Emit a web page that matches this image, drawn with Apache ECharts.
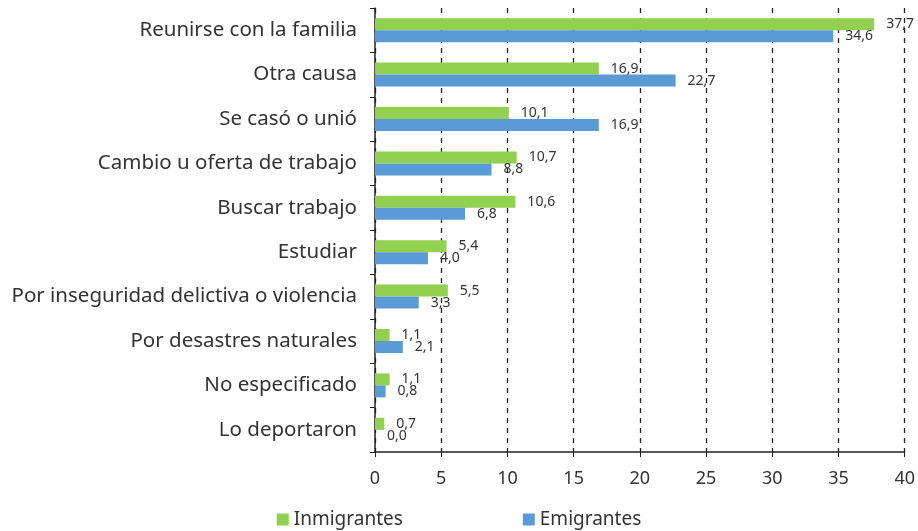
<!DOCTYPE html>
<html>
<head>
<meta charset="utf-8">
<script src="https://cdn.jsdelivr.net/npm/echarts@6/dist/echarts.min.js"></script>
<style>
  html, body { margin: 0; padding: 0; background: #fff; }
  #chart { width: 918px; height: 531px; }
</style>
</head>
<body>
<div id="chart"></div>
<script>
var categories = [
  'Reunirse con la familia',
  'Otra causa',
  'Se casó o unió',
  'Cambio u oferta de trabajo',
  'Buscar trabajo',
  'Estudiar',
  'Por inseguridad delictiva o violencia',
  'Por desastres naturales',
  'No especificado',
  'Lo deportaron'
]
var inmigrantes = [37.7, 16.9, 10.1, 10.7, 10.6, 5.4, 5.5, 1.1, 1.1, 0.7]
var emigrantes = [34.6, 22.7, 16.9, 8.8, 6.8, 4.0, 3.3, 2.1, 0.8, 0.0]

var font = 'Noto Sans'
var chart = echarts.init(document.getElementById('chart'))

function labelFmt (p) {
  return p.value.toFixed(1).replace('.', ',')
}

chart.setOption({
  animation: false,
  textStyle: { fontFamily: font },
  grid: { left: 375, right: 13, top: 8, bottom: 79 },
  legend: {
    bottom: -3,
    left: 'center',
    itemWidth: 12,
    itemHeight: 12,
    itemGap: 120,
    icon: 'rect',
    textStyle: { fontSize: 19, color: '#333', fontFamily: font },
    data: ['Inmigrantes', 'Emigrantes']
  },
  xAxis: {
    type: 'value',
    min: 0,
    max: 40,
    interval: 5,
    axisLine: { show: true, lineStyle: { color: '#222', width: 1.5 } },
    axisTick: { show: true, length: 5, lineStyle: { color: '#222' } },
    axisLabel: { fontSize: 18, color: '#333', margin: 18 },
    splitLine: { show: true, lineStyle: { color: '#222', type: [5, 5], width: 1.3 } }
  },
  yAxis: {
    type: 'category',
    inverse: true,
    data: categories,
    axisLine: { show: true, lineStyle: { color: '#222', width: 1.5 } },
    axisTick: { show: true, length: 5, lineStyle: { color: '#222' } },
    axisLabel: { fontSize: 20.5, color: '#333', margin: 18 }
  },
  series: [
    {
      name: 'Inmigrantes',
      type: 'bar',
      data: inmigrantes,
      barWidth: 12,
      barGap: '0%',
      itemStyle: { color: '#92d050' },
      label: { show: true, position: 'right', distance: 12, fontSize: 14, color: '#333', formatter: labelFmt }
    },
    {
      name: 'Emigrantes',
      type: 'bar',
      data: emigrantes,
      barWidth: 12,
      barGap: '0%',
      itemStyle: { color: '#5b9bd5' },
      label: { show: true, position: 'right', distance: 12, fontSize: 14, color: '#333', formatter: labelFmt }
    }
  ]
})
</script>
</body>
</html>
